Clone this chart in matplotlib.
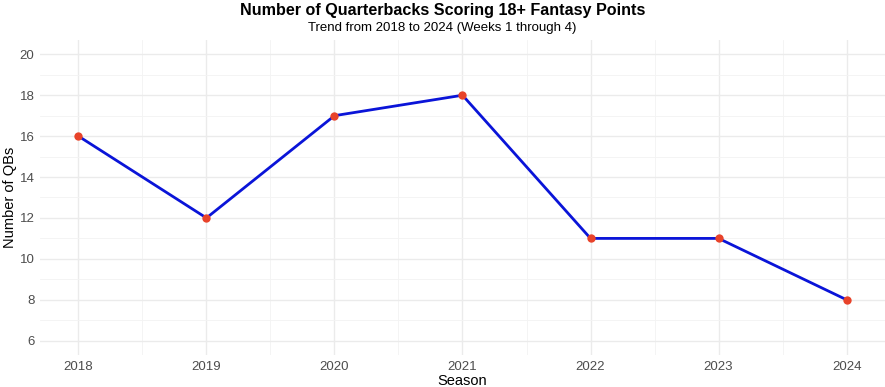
import matplotlib
matplotlib.use("Agg")
import matplotlib.pyplot as plt
from matplotlib.ticker import MultipleLocator

seasons = [2018, 2019, 2020, 2021, 2022, 2023, 2024]
qb_counts = [16, 12, 17, 18, 11, 11, 8]
y_ticks = [6, 8, 10, 12, 14, 16, 18, 20]

plt.rcParams['font.family'] = ['Liberation Sans', 'DejaVu Sans']

fig = plt.figure(figsize=(8.85, 3.87), dpi=100)
ax = fig.add_axes([40/885, 32/387, 845/885, 315/387])

ax.plot(seasons, qb_counts, color='#0A14D8', linewidth=2.0, zorder=3)
ax.scatter(seasons, qb_counts, s=36, color='#E8432A', zorder=4, linewidths=0)

ax.set_xlim(2017.7, 2024.3)
ax.set_ylim(5.3, 20.7)
ax.set_xticks(seasons)
ax.set_xticklabels([str(s) for s in seasons])
ax.set_yticks(y_ticks)
ax.xaxis.set_minor_locator(MultipleLocator(0.5))
ax.yaxis.set_minor_locator(MultipleLocator(1))

ax.grid(which='major', color='#EBEBEB', linewidth=1.0)
ax.grid(which='minor', color='#F3F3F3', linewidth=0.6)
ax.set_axisbelow(True)
for sp in ax.spines.values():
    sp.set_visible(False)
ax.tick_params(which='both', length=0)
ax.tick_params(axis='both', labelsize=9.5, labelcolor='#4D4D4D', pad=4)

ax.set_xlabel('Season', fontsize=10.5, color='black', labelpad=1)
ax.set_ylabel('Number of QBs', fontsize=10.5, color='black', labelpad=2)

fig.text(0.5, 1 - 11/387, 'Number of Quarterbacks Scoring 18+ Fantasy Points',
         ha='center', va='center', fontsize=11.6, fontweight='bold')
fig.text(0.5, 1 - 28/387, 'Trend from 2018 to 2024 (Weeks 1 through 4)',
         ha='center', va='center', fontsize=9.5)

fig.savefig('out.png', dpi=100, facecolor='white')
